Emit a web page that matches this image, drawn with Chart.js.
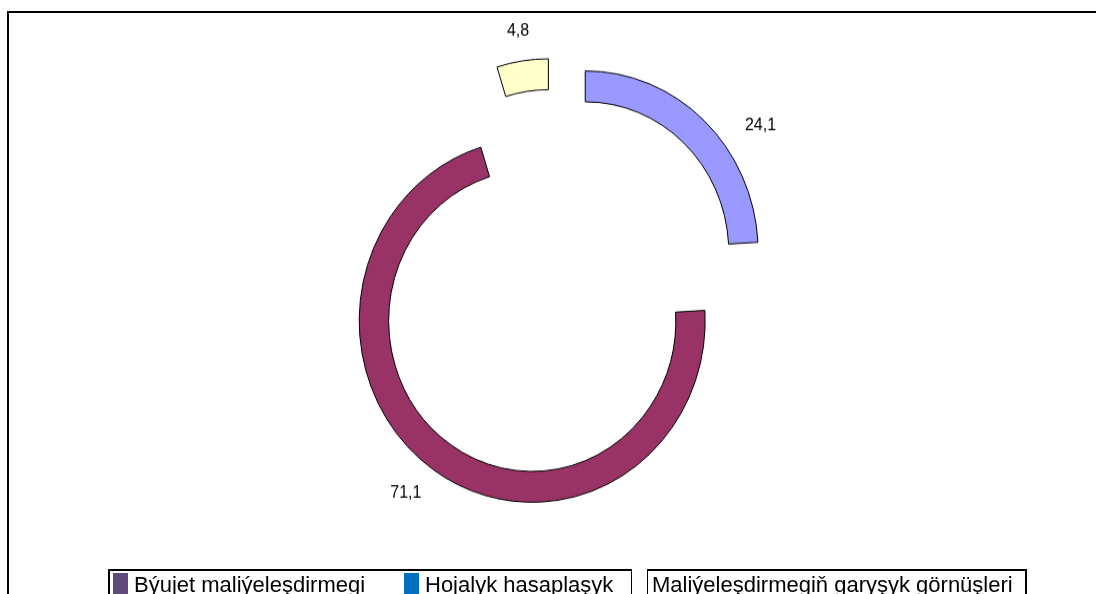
<!DOCTYPE html>
<html>
<head>
<meta charset="utf-8">
<script src="https://cdn.jsdelivr.net/npm/chart.js@4.4.1/dist/chart.umd.min.js"></script>
<style>
body{margin:0;width:1096px;height:594px;overflow:hidden;background:#fff;position:relative;font-family:"Liberation Sans",Arial,sans-serif}
#frame{position:absolute;left:7px;top:11px;width:1300px;height:700px;border-top:2px solid #000;border-left:2px solid #000}
#wrap{position:absolute;left:0;top:0;width:1096px;height:594px;transform:scaleY(1.05);transform-origin:0 0}
#legend{position:absolute;left:108px;top:569px;width:915px;height:60px;border:2px solid #000}
.sw{position:absolute;top:573px;width:15px;height:30px}
.tx{position:absolute;top:574px;font-size:22px;line-height:22px;color:#000;white-space:nowrap}
</style>
</head>
<body>
<div id="frame"></div>
<div id="wrap"><canvas id="myChart" width="1096" height="594"></canvas></div>
<div id="legend"></div>
<script>
// slices, in drawing order (clockwise from 12 o'clock)
const labels = ['Hojalyk hasaplaşyk', 'Býujet maliýeleşdirmegi', 'Maliýeleşdirmegiň garyşyk görnüşleri'];
const values = [24.1, 71.1, 4.8];
const sliceColors = ['#9999FF', '#993366', '#FFFFCC'];

// legend as printed under the chart
const legendLabels = ['Býujet maliýeleşdirmegi', 'Hojalyk hasaplaşyk', 'Maliýeleşdirmegiň garyşyk görnüşleri'];
const legendColors = ['#5F4A7B', '#0070C0', '#FFFFFF'];

const legendX = [113, 404, 631];
const explode = [44, 40, 44]; // how far each slice is pulled out, px

function fmt(v) {
  return v.toFixed(1).replace('.', ',');
}

// pull every slice out along its middle angle, without chart.js growing the radius
const explodeSlices = {
  id: 'explodeSlices',
  beforeDatasetDraw(chart, args) {
    const ctx = chart.ctx;
    args.meta.data.forEach((arc, i) => {
      const a = (arc.startAngle + arc.endAngle) / 2;
      ctx.save();
      ctx.translate(Math.cos(a) * explode[i], Math.sin(a) * explode[i]);
      arc.draw(ctx);
      ctx.restore();
    });
    return false;
  }
};

const valueLabels = {
  id: 'valueLabels',
  afterDatasetsDraw(chart, args, opts) {
    const ctx = chart.ctx;
    const meta = chart.getDatasetMeta(0);
    ctx.save();
    ctx.font = '16px "Liberation Sans", Arial, sans-serif';
    ctx.fillStyle = '#000';
    ctx.textAlign = 'center';
    ctx.textBaseline = 'middle';
    meta.data.forEach((arc, i) => {
      const p = arc.getProps(['x', 'y', 'startAngle', 'endAngle', 'outerRadius']);
      const a = (p.startAngle + p.endAngle) / 2 + opts.turn[i] * Math.PI / 180;
      const d = p.outerRadius + explode[i] + opts.gap[i];
      ctx.fillText(fmt(chart.data.datasets[0].data[i]), p.x + Math.cos(a) * d, p.y + Math.sin(a) * d);
    });
    ctx.restore();
  }
};

const chart = new Chart('myChart', {
  type: 'doughnut',
  data: {
    labels: labels,
    datasets: [{
      data: values,
      backgroundColor: sliceColors,
      borderColor: '#000',
      borderWidth: 1,
      radius: 173,
      cutout: '83%'
    }]
  },
  options: {
    responsive: false,
    animation: false,
    events: [],
    layout: { padding: { left: 14, right: 0, top: 0, bottom: 49 } },
    plugins: {
      legend: { display: false },
      tooltip: { enabled: false },
      valueLabels: { gap: [39, 34, 29], turn: [10, 2.4, 0] }
    }
  },
  plugins: [explodeSlices, valueLabels]
});

// html legend
legendLabels.forEach((t, i) => {
  const sw = document.createElement('div');
  sw.className = 'sw';
  sw.style.left = legendX[i] + 'px';
  sw.style.background = legendColors[i];
  if (legendColors[i] === '#FFFFFF') {
    sw.style.borderLeft = '1.5px solid #000';
    sw.style.borderRight = '1.5px solid #000';
    sw.style.top = '569px';
  }
  document.body.appendChild(sw);
  const tx = document.createElement('div');
  tx.className = 'tx';
  tx.style.left = (legendX[i] + 21) + 'px';
  tx.textContent = t;
  document.body.appendChild(tx);
});
</script>
</body>
</html>
